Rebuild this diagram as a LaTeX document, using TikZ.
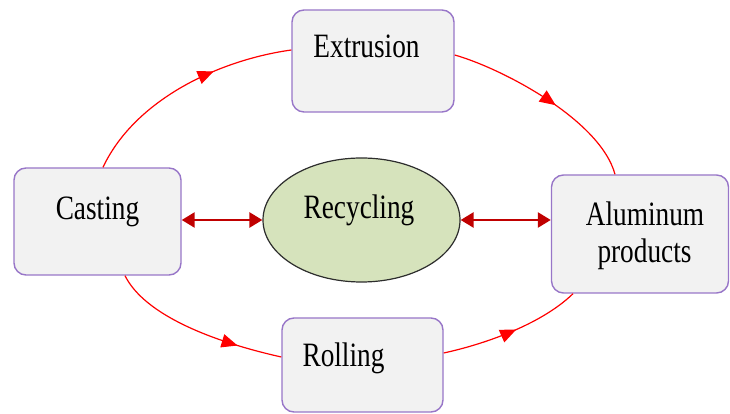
\documentclass[tikz,border=0pt]{standalone}
\usepackage{fontspec}
\setmainfont{Liberation Serif}
\usetikzlibrary{arrows.meta,decorations.markings,shapes.geometric}

\definecolor{boxline}{RGB}{152,118,200}
\definecolor{boxfill}{RGB}{242,242,242}
\definecolor{ringfill}{RGB}{214,227,188}
\definecolor{ringline}{RGB}{45,45,45}
\definecolor{linkred}{RGB}{255,0,0}
\definecolor{darkred}{RGB}{192,0,0}

\newcommand{\tallword}[1]{\scalebox{1}[1.25]{#1}}

\begin{document}
\begin{tikzpicture}[x=1pt,y=1pt,
  stage/.style={draw=boxline, line width=1.4pt, fill=boxfill,
    rounded corners=12pt, inner sep=0pt},
  caption/.style={anchor=base, inner sep=0pt,
    font=\fontsize{27.3}{30}\selectfont},
  flow/.style={draw=linkred, line width=1.2pt, postaction={decorate},
    decoration={markings, mark=at position #1 with
      {\arrow[linkred]{Triangle[length=16pt,width=13.5pt]}}}},
  exchange/.style={draw=darkred, line width=2.5pt,
    {Triangle[length=13pt,width=15pt]}-{Triangle[length=13pt,width=15pt]}}
]
\path[use as bounding box] (0,0) rectangle (730,414);

% process stages
\node[stage, minimum width=162pt, minimum height=102pt] (extrusion) at (373,353) {};
\node[stage, minimum width=167pt, minimum height=107pt] (casting) at (97.5,192.5) {};
\node[stage, minimum width=177pt, minimum height=118pt] (aluminum) at (640,180) {};
\node[stage, minimum width=161pt, minimum height=94pt] (rolling) at (362.5,49) {};

% central recycling hub
\node[ellipse, draw=ringline, line width=1.2pt, fill=ringfill, inner sep=0pt,
  minimum width=197pt, minimum height=124pt] (recycling) at (361.5,194) {};

% stage names
\node[caption] (t-extrusion) at (366.5,356) {\tallword{Extrusion}};
\node[caption] (t-casting) at (97.5,194) {\tallword{Casting}};
\node[caption] (t-rolling) at (343.5,47) {\tallword{Rolling}};
\node[caption] (t-recycling) at (359,195) {\tallword{Recycling}};
\node[caption] (t-alum1) at (645,188) {\tallword{Aluminum}};
\node[caption] (t-alum2) at (644.5,151) {\tallword{products}};

% production cycle
\draw[flow=0.65] ([xshift=5.5pt]casting.north)
  .. controls +(32,68) and +(-72,-10) .. ([yshift=11pt]extrusion.west);
\draw[flow=0.55] ([yshift=6pt]extrusion.east)
  .. controls +(46,-13) and +(-15,55) .. ([xshift=-25pt]aluminum.north);
\draw[flow=0.75] ([xshift=27.5pt]casting.south)
  .. controls +(20,-40) and +(-67,15) .. ([yshift=8pt]rolling.west);
\draw[flow=0.53] ([yshift=12pt]rolling.east)
  .. controls +(37,8) and +(-33,-32) .. ([xshift=-67pt]aluminum.south);

% two-way links with recycling
\draw[exchange] (recycling.west -| casting.east) -- (recycling.west);
\draw[exchange] (recycling.east) -- (recycling.east -| aluminum.west);
\end{tikzpicture}
\end{document}
